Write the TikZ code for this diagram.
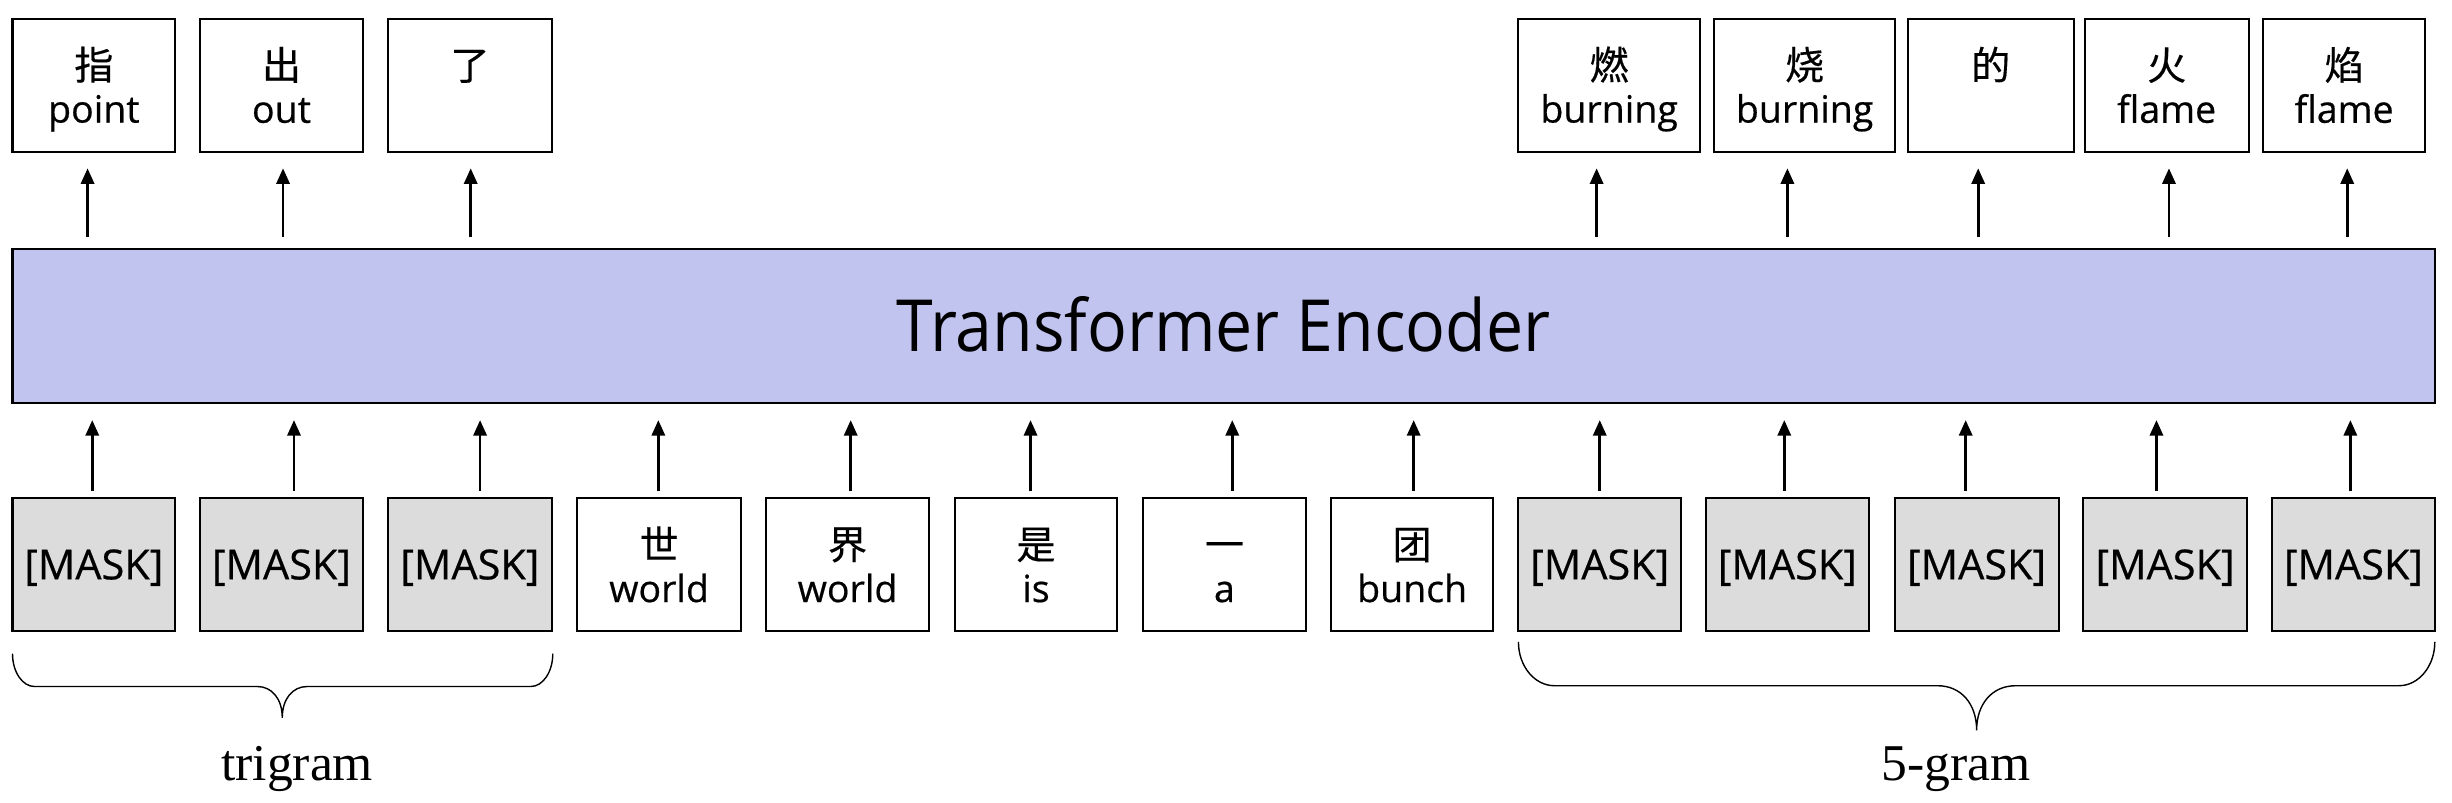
\documentclass[tikz,border=0pt]{standalone}
\usepackage{fontspec}
\usepackage{graphicx}
\setmainfont{Open Sans}
\newfontfamily\boxfont{Open Sans}[FakeBold=0.5]
\newfontfamily\cjk{Noto Sans CJK SC}[FakeBold=0.4]
\newfontfamily\serifl{Liberation Serif}
\usetikzlibrary{arrows.meta}
\definecolor{encfill}{RGB}{194,196,240}
\definecolor{maskfill}{RGB}{220,220,220}
\newcommand\bitext[2]{\rule{0pt}{26pt}{\cjk\fontsize{25}{27.5}\selectfont #1}\\#2\rule[-5.5pt]{0pt}{5.5pt}}
\begin{document}
\begin{tikzpicture}[x=1pt,y=-1pt,
  tok/.style={draw=black, line width=1.3pt, minimum height=85pt, minimum width=104pt, inner sep=0pt, align=center, font=\boxfont\fontsize{24}{27.5}\selectfont},
  masktok/.style={tok, fill=maskfill, font=\boxfont\fontsize{26.5}{30}\selectfont, text height=19pt, text depth=0pt},
  arr/.style={line width=1.7pt, -{Triangle[length=10pt,width=8.5pt]}},
  brace/.style={line width=0.9pt},
  gramlbl/.style={font=\serifl\fontsize{33}{40}\selectfont, anchor=base, inner sep=0pt}]
\useasboundingbox (0,0) rectangle (1568,513);

% encoder
\node[draw=black, line width=1.3pt, fill=encfill, minimum width=1549pt, minimum height=99pt, inner sep=0pt,
  text height=33pt, text depth=0pt, font=\fontsize{46}{55}\selectfont] (enc) at (782.5,208.5)
  {\scalebox{0.92}[1]{Transformer Encoder}};

% top outputs
\node[tok] (t1) at (60,54.5) {\bitext{指}{point}};
\node[tok] (t2) at (180,54.5) {\bitext{出}{out}};
\node[tok, minimum width=105pt] (t3) at (300.5,54.5) {\bitext{了}{}};
\node[tok, minimum width=116pt] (t4) at (1029,54.5) {\bitext{燃}{burning}};
\node[tok, minimum width=116pt] (t5) at (1154,54.5) {\bitext{烧}{burning}};
\node[tok, minimum width=106pt] (t6) at (1273,54.5) {\bitext{的}{}};
\node[tok, minimum width=105pt] (t7) at (1385.5,54.5) {\bitext{火}{flame}};
\node[tok] (t8) at (1499,54.5) {\bitext{焰}{flame}};

% bottom inputs
\node[masktok] (b1) at (60,361) {[MASK]};
\node[masktok] (b2) at (180,361) {[MASK]};
\node[masktok, minimum width=105pt] (b3) at (300.5,361) {[MASK]};
\node[tok, minimum width=105pt] (b4) at (421.5,361) {\bitext{世}{world}};
\node[tok] (b5) at (542,361) {\bitext{界}{world}};
\node[tok] (b6) at (662.5,361) {\bitext{是}{is}};
\node[tok] (b7) at (783,361) {\bitext{一}{a}};
\node[tok] (b8) at (903,361) {\bitext{团}{bunch}};
\node[masktok] (b9) at (1023,361) {[MASK]};
\node[masktok] (b10) at (1143,361) {[MASK]};
\node[masktok, minimum width=105pt] (b11) at (1264,361) {[MASK]};
\node[masktok, minimum width=105pt] (b12) at (1384.5,361) {[MASK]};
\node[masktok] (b13) at (1505,361) {[MASK]};

% arrows into encoder
\foreach \n/\x in {b1/59, b2/188, b3/307, b4/421, b5/544, b6/659, b7/788, b8/904, b9/1023, b10/1141, b11/1257, b12/1379, b13/1503}{
  \coordinate (bx) at (\x,0);
  \draw[arr, shorten <=4pt, shorten >=10pt] (\n.north -| bx) -- (enc.south -| bx);
}
% arrows out of encoder
\foreach \n/\x in {t1/56, t2/181, t3/301, t4/1021, t5/1143, t6/1265, t7/1387, t8/1501}{
  \coordinate (tx) at (\x,0);
  \draw[arr, shorten <=7pt, shorten >=10pt] (enc.north -| tx) -- (\n.south -| tx);
}

% braces
\draw[brace] (8,418) .. controls (8,429.6) and (14.3,439) .. (22,439) -- (164.5,439)
  .. controls (174,439) and (180.5,447) .. (180.5,459)
  .. controls (180.5,447) and (187,439) .. (196.5,439) -- (339.5,439)
  .. controls (347.2,439) and (353.5,429.6) .. (353.5,418);
\draw[brace] (971,410.5) .. controls (971,426) and (981.3,438.5) .. (994,438.5) -- (1239,438.5)
  .. controls (1254,438.5) and (1264,450) .. (1264,467)
  .. controls (1264,450) and (1274,438.5) .. (1289,438.5) -- (1534,438.5)
  .. controls (1546.7,438.5) and (1557,426) .. (1557,410.5);

\node[gramlbl] (tri) at (190,499) {trigram};
\node[gramlbl] (five) at (1251,499) {5-gram};
\end{tikzpicture}
\end{document}
